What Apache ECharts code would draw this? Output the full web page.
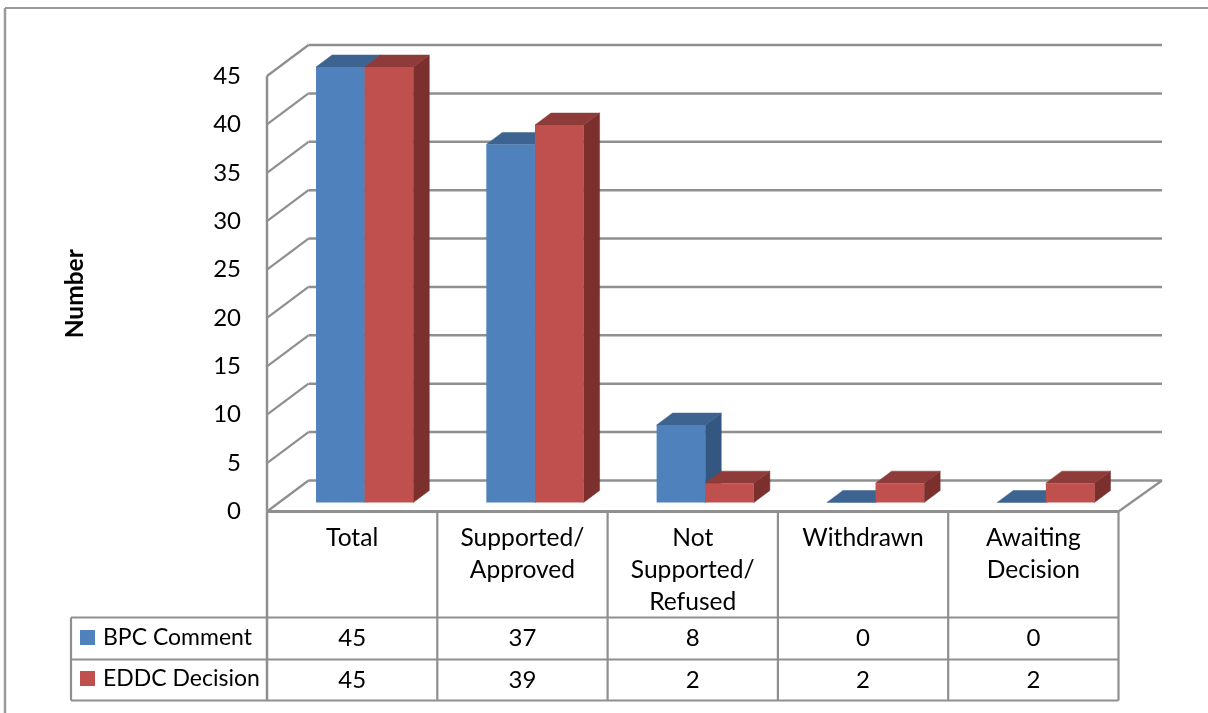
<!DOCTYPE html>
<html>
<head>
<meta charset="utf-8">
<style>html,body{margin:0;padding:0;background:#fff}#c{width:1208px;height:713px}</style>
<script src="https://cdn.jsdelivr.net/npm/echarts@6/dist/echarts.min.js"></script>
</head>
<body>
<div id="c"></div>
<script>
const categories = ['Total', 'Supported/\nApproved', 'Not\nSupported/\nRefused', 'Withdrawn', 'Awaiting\nDecision'];
const bpcComment = [45, 37, 8, 0, 0];
const eddcDecision = [45, 39, 2, 2, 2];
const yTicks = [0, 5, 10, 15, 20, 25, 30, 35, 40, 45];
const seriesNames = ['BPC Comment', 'EDDC Decision'];

const FONT = 'Lato';
const LINE = '#8f8f8f';
const WALL = {dx: 41.5, dy: -31, extra: 2};
const DEPTH = {dx: 16, dy: -12};
const FRONT = {dx: 12.5, dy: -9};
const BAR_FRAC = 48.6 / 170.2;
const TABLE = {left: 71, row0: 617.5, row1: 659.5, row2: 700.5};

function line(x1, y1, x2, y2, w) {
  return {type: 'line', shape: {x1, y1, x2, y2}, style: {stroke: LINE, lineWidth: w || 2.2}};
}
function poly(points, fill) {
  return {type: 'polygon', shape: {points}, style: {fill, stroke: fill, lineWidth: 0.5}};
}
function barRender(seriesIdx, front, top, side) {
  return function (params, api) {
    const base = api.coord([api.value(0), 0]);
    const head = api.coord([api.value(0), api.value(1)]);
    const w = api.size([1, 0])[0] * BAR_FRAC;
    const x0 = base[0] + FRONT.dx - w + seriesIdx * w;
    const x1 = x0 + w;
    const yb = base[1] + FRONT.dy;
    const yt = head[1] + FRONT.dy;
    const dx = DEPTH.dx, dy = DEPTH.dy;
    return {type: 'group', children: [
      poly([[x1, yb], [x1 + dx, yb + dy], [x1 + dx, yt + dy], [x1, yt]], side),
      poly([[x0, yt], [x0 + dx, yt + dy], [x1 + dx, yt + dy], [x1, yt]], top),
      {type: 'rect', shape: {x: x0, y: yt, width: w, height: yb - yt}, style: {fill: front}}
    ]};
  };
}

const option = {
  animation: false,
  backgroundColor: '#fff',
  textStyle: {fontFamily: FONT},
  graphic: [
    {type: 'line', shape: {x1: 5, y1: 713, x2: 5, y2: 8}, style: {stroke: '#9a9a9a', lineWidth: 2.5}},
    {type: 'line', shape: {x1: 5, y1: 8, x2: 1208, y2: 8}, style: {stroke: '#9a9a9a', lineWidth: 2}}
  ],
  legend: {
    left: 80, top: 626, padding: 0, orient: 'vertical', itemWidth: 15, itemHeight: 15, itemGap: 18,
    icon: 'rect', selectedMode: false, data: seriesNames,
    textStyle: {fontFamily: FONT, fontSize: 23, color: '#000', padding: [0, 0, 0, 3], lineHeight: 22}
  },
  grid: {left: 267, top: 76, width: 851.5, height: 435.5},
  xAxis: {
    type: 'category', data: categories,
    axisLine: {show: false}, axisTick: {show: false}, splitLine: {show: false},
    axisLabel: {interval: 0, margin: 11, fontFamily: FONT, fontSize: 24.6, color: '#000', lineHeight: 32, verticalAlign: 'top'}
  },
  yAxis: {
    type: 'value', min: 0, max: 45, interval: 5,
    name: 'Number', nameLocation: 'center', nameGap: 179,
    nameTextStyle: {fontFamily: FONT, fontWeight: 'bold', fontSize: 24.5, color: '#000'},
    axisLine: {show: false}, axisTick: {show: false}, splitLine: {show: false},
    axisLabel: {margin: 26, fontFamily: FONT, fontSize: 24, color: '#000', padding: [9, 0, 0, 0]}
  },
  series: [
    {
      type: 'custom', name: 'walls', z: 1, silent: true,
      data: yTicks.map(t => [0, t]),
      renderItem(params, api) {
        const c = params.coordSys;
        const y = api.coord([0, api.value(1)])[1];
        const kids = [
          line(c.x, y, c.x + WALL.dx, y + WALL.dy),
          line(c.x + WALL.dx, y + WALL.dy, c.x + c.width + WALL.dx + WALL.extra, y + WALL.dy, 2.5)
        ];
        if (api.value(1) === 0) {
          kids.push(line(c.x + c.width, y, c.x + c.width + WALL.dx + WALL.extra, y + WALL.dy));
          kids.push(line(c.x, y, c.x, c.y, 2.5));
        }
        return {type: 'group', children: kids};
      }
    },
    {
      type: 'custom', name: seriesNames[0], z: 2, silent: true,
      itemStyle: {color: '#4F81BD'},
      data: bpcComment.map((v, i) => [i, v]),
      renderItem: barRender(0, '#4F81BD', '#3D6491', '#345781')
    },
    {
      type: 'custom', name: seriesNames[1], z: 3, silent: true,
      itemStyle: {color: '#C0504D'},
      data: eddcDecision.map((v, i) => [i, v]),
      renderItem: barRender(1, '#C0504D', '#8E3B39', '#7B302E')
    },
    {
      type: 'custom', name: 'table', z: 4, silent: true,
      data: categories.map((c, i) => [i, bpcComment[i], eddcDecision[i]]),
      renderItem(params, api) {
        const c = params.coordSys;
        const i = api.value(0);
        const band = c.width / categories.length;
        const cx = api.coord([i, 0])[0];
        const right = c.x + (i + 1) * band;
        const bottom = c.y + c.height;
        const txt = (v, y) => ({type: 'text', style: {
          text: String(v), x: cx, y, align: 'center', verticalAlign: 'middle',
          fontFamily: FONT, fontSize: 24, fill: '#000'}});
        const kids = [
          line(right, bottom, right, TABLE.row2),
          txt(api.value(1), (TABLE.row0 + TABLE.row1) / 2),
          txt(api.value(2), (TABLE.row1 + TABLE.row2) / 2)
        ];
        if (i === 0) {
          kids.push(line(c.x, bottom, c.x + c.width, bottom, 3));
          kids.push(line(c.x, bottom, c.x, TABLE.row2, 2.5));
          kids.push(line(TABLE.left, TABLE.row0, c.x + c.width, TABLE.row0));
          kids.push(line(TABLE.left, TABLE.row1, c.x + c.width, TABLE.row1));
          kids.push(line(TABLE.left, TABLE.row2, c.x + c.width, TABLE.row2));
          kids.push(line(TABLE.left, TABLE.row0, TABLE.left, TABLE.row2));
        }
        return {type: 'group', children: kids};
      }
    }
  ]
};
const chart = echarts.init(document.getElementById('c'), null, {renderer: 'canvas'});
chart.setOption(option);
</script>
</body>
</html>
